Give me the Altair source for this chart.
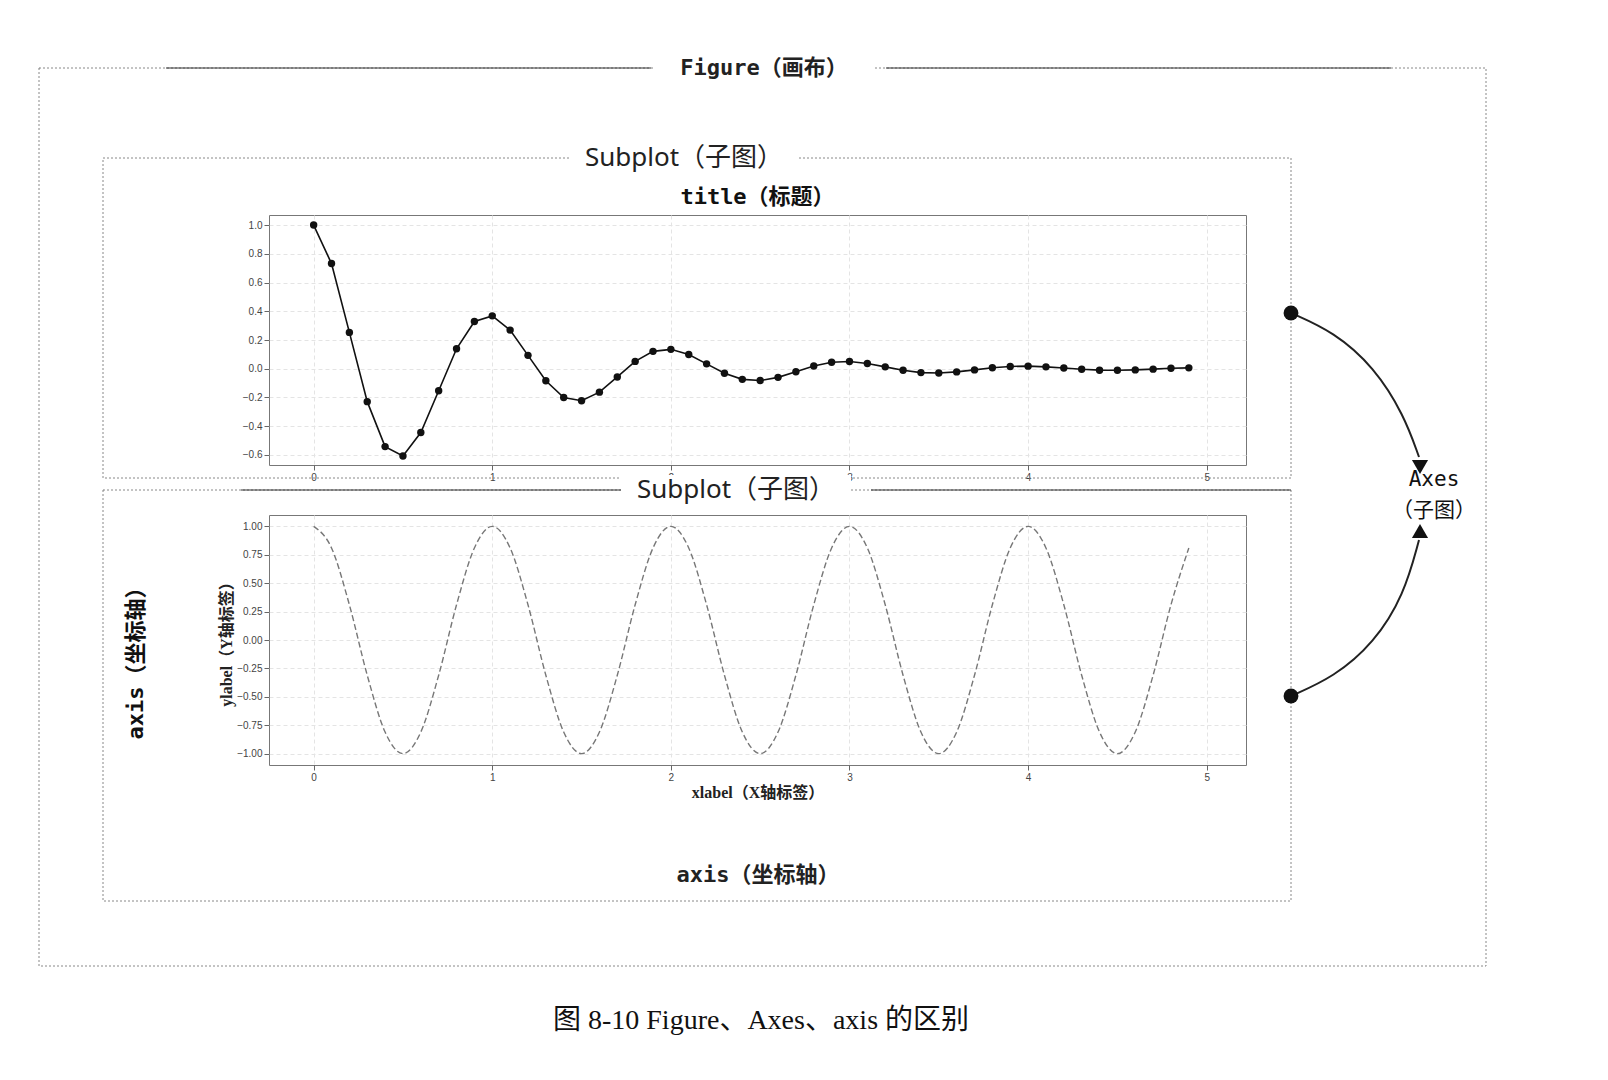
import altair as alt
import pandas as pd

# damped oscillation (x step 0.1)
x_top = [round(i * 0.1, 1) for i in range(50)]
y_top = [1.0, 0.732, 0.253, -0.229, -0.542, -0.607, -0.444, -0.153, 0.139, 0.329,
         0.368, 0.269, 0.093, -0.084, -0.200, -0.223, -0.163, -0.057, 0.051, 0.121,
         0.135, 0.099, 0.034, -0.031, -0.074, -0.082, -0.060, -0.021, 0.019, 0.045,
         0.050, 0.036, 0.013, -0.011, -0.027, -0.030, -0.022, -0.008, 0.007, 0.016,
         0.018, 0.013, 0.005, -0.004, -0.010, -0.011, -0.008, -0.003, 0.003, 0.006]

# dashed cosine in the lower panel (x step 0.1)
x_bot = [round(i * 0.1, 1) for i in range(50)]
cycle = [1.0, 0.81, 0.31, -0.31, -0.81, -1.0, -0.81, -0.31, 0.31, 0.81]
y_bot = cycle * 5

top_df = pd.DataFrame({"x": x_top, "y": y_top})
bot_df = pd.DataFrame({"x": x_bot, "y": y_bot})

W, H = 977, 250
MONO = "DejaVu Sans Mono, Noto Sans CJK SC"
SERIF = "Liberation Serif, Noto Sans CJK SC"
xscale = alt.Scale(domain=[-0.25, 5.22], nice=False, zero=False)
axis_style = dict(labelFontSize=10, labelColor="#444", tickColor="#666",
                  domain=False, gridColor="#e4e4e4", gridDash=[4, 3])

top_base = alt.Chart(top_df).encode(
    x=alt.X("x:Q", scale=xscale, title=None,
            axis=alt.Axis(values=[0, 1, 2, 3, 4, 5], format="d", **axis_style)),
    y=alt.Y("y:Q", scale=alt.Scale(domain=[-0.67, 1.07], nice=False), title=None,
            axis=alt.Axis(values=[-0.6, -0.4, -0.2, 0, 0.2, 0.4, 0.6, 0.8, 1.0],
                          format=".1f", **axis_style)),
)
top = alt.layer(
    top_base.mark_line(color="#111", strokeWidth=1.6),
    top_base.mark_circle(color="#111", size=55, opacity=1),
).properties(
    width=W, height=H,
    title=alt.TitleParams("title（标题）", font=MONO, fontSize=22, fontWeight="bold",
                          offset=6, color="#111"),
)

bot_line = alt.Chart(bot_df).mark_line(
    color="#777", strokeDash=[6, 3], strokeWidth=1.4, interpolate="monotone"
).encode(
    x=alt.X("x:Q", scale=xscale,
            axis=alt.Axis(values=[0, 1, 2, 3, 4, 5], format="d", **axis_style),
            title="xlabel（X轴标签）"),
    y=alt.Y("y:Q", scale=alt.Scale(domain=[-1.1, 1.1], nice=False),
            axis=alt.Axis(values=[-1, -0.75, -0.5, -0.25, 0, 0.25, 0.5, 0.75, 1],
                          format=".2f", **axis_style),
            title="ylabel（Y轴标签）"),
)

# frame decorations, in pixels relative to the lower plot area
boxes = pd.DataFrame({
    "x": [-230, -166, -166], "x2": [1217, 1022, 1022],
    "y": [-447, -357, -25], "y2": [451, -37, 386],
})
masks = pd.DataFrame({
    "x": [385, 300, 352], "x2": [605, 530, 582],
    "y": [-460, -372, -40], "y2": [-434, -342, -10],
})
rules = pd.DataFrame({
    "x": [-103, 617, -28, 602], "x2": [382, 1122, 352, 1022],
    "y": [-447, -447, -25, -25],
})
labels = pd.DataFrame({
    "x": [495, 415, 467, 489],
    "y": [-447, -357, -25, 360],
    "t": ["Figure（画布）", "Subplot（子图）", "Subplot（子图）", "axis（坐标轴）"],
    "font": [MONO, "Noto Sans, Noto Sans CJK SC", "Noto Sans, Noto Sans CJK SC", MONO],
    "bold": ["bold", "normal", "normal", "bold"],
    "size": [22, 26, 26, 22],
})
curves = pd.DataFrame({
    "g": ["a"] * 5 + ["b"] * 5,
    "o": list(range(5)) * 2,
    "x": [1022, 1065, 1105, 1135, 1150, 1022, 1065, 1105, 1135, 1150],
    "y": [-202, -183, -148, -100, -58, 181, 162, 128, 80, 25],
})
heads = pd.DataFrame({"x": [1151, 1151], "y": [-48, 16],
                      "s": ["triangle-down", "triangle-up"]})
dots = pd.DataFrame({"x": [1022, 1022], "y": [-202, 181]})
side = pd.DataFrame({"x": [1165, 1165], "y": [-35, -4], "t": ["Axes", "（子图）"]})


def px(f):
    return alt.X(f, scale=None, axis=None)


def py(f):
    return alt.Y(f, scale=None, axis=None)


label_layers = [
    alt.Chart(labels.iloc[[i]]).mark_text(
        color="#222", font=r.font, fontSize=int(r.size), fontWeight=r.bold
    ).encode(x=px("x:Q"), y=py("y:Q"), text="t:N")
    for i, r in enumerate(labels.itertuples())
]

deco = [
    alt.Chart(boxes).mark_rect(fill=None, stroke="#888", strokeDash=[2, 2], strokeWidth=1)
    .encode(x=px("x:Q"), x2="x2:Q", y=py("y:Q"), y2="y2:Q"),
    alt.Chart(masks).mark_rect(fill="white")
    .encode(x=px("x:Q"), x2="x2:Q", y=py("y:Q"), y2="y2:Q"),
    alt.Chart(rules).mark_rule(color="#333", strokeWidth=1.2)
    .encode(x=px("x:Q"), x2="x2:Q", y=py("y:Q")),
    *label_layers,
    alt.Chart(curves).mark_line(color="#222", strokeWidth=2, interpolate="basis")
    .encode(x=px("x:Q"), y=py("y:Q"), detail="g:N", order="o:Q"),
    alt.Chart(heads).mark_point(filled=True, color="#111", size=260, opacity=1)
    .encode(x=px("x:Q"), y=py("y:Q"), shape=alt.Shape("s:N", scale=None)),
    alt.Chart(dots).mark_circle(color="#111", size=220, opacity=1)
    .encode(x=px("x:Q"), y=py("y:Q")),
    alt.Chart(side).mark_text(font=MONO, fontSize=21, color="#111")
    .encode(x=px("x:Q"), y=py("y:Q"), text="t:N"),
    alt.Chart(pd.DataFrame({"x": [-133], "y": [143], "t": ["axis（坐标轴）"]}))
    .mark_text(font=MONO, fontSize=22, fontWeight="bold", angle=270, color="#111")
    .encode(x=px("x:Q"), y=py("y:Q"), text="t:N"),
    alt.Chart(pd.DataFrame({"x": [492], "y": [506], "t": ["图 8-10   Figure、Axes、axis 的区别"]}))
    .mark_text(font=SERIF, fontSize=28, color="#111")
    .encode(x=px("x:Q"), y=py("y:Q"), text="t:N"),
]

bottom = alt.layer(bot_line, *deco).properties(width=W, height=H)

chart = alt.vconcat(top, bottom, spacing=50, bounds="flush").properties(
    padding={"left": 30, "top": 46, "right": 5, "bottom": 5}
).configure_view(stroke="#777", strokeWidth=1).configure_axis(
    titleFont=SERIF, titleFontSize=16, titleFontWeight="bold", titleColor="#222",
    titlePadding=2,
)

chart.save("out.html", embed_options={"renderer": "svg", "actions": False})
